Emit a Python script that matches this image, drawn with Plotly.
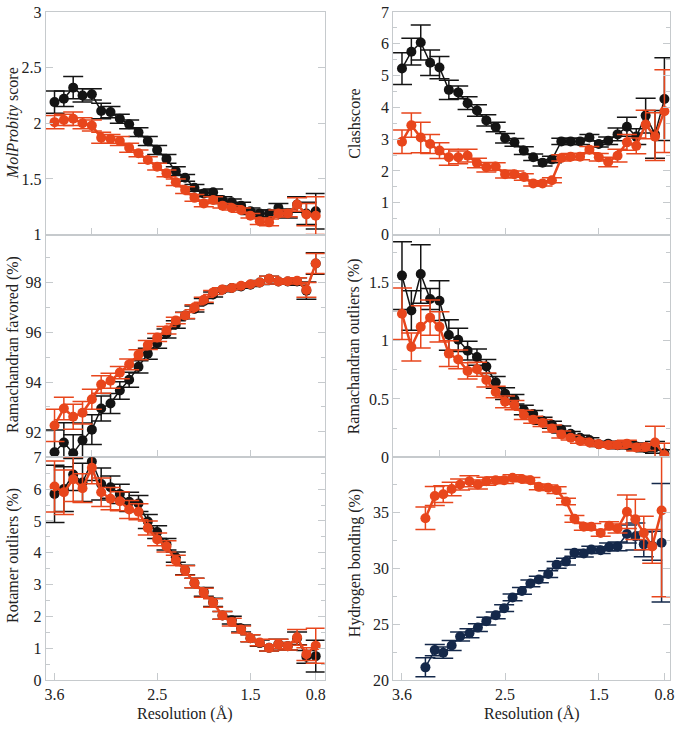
import plotly.graph_objects as go

# ---------------- data ----------------
resolution = [3.6, 3.5, 3.4, 3.3, 3.2, 3.1, 3.0, 2.9, 2.8, 2.7, 2.6, 2.5, 2.4, 2.3, 2.2,
              2.1, 2.0, 1.9, 1.8, 1.7, 1.6, 1.5, 1.4, 1.3, 1.2, 1.1, 1.0, 0.9, 0.8]

molprobity_black = [2.19, 2.22, 2.32, 2.25, 2.26, 2.11, 2.10, 2.04, 1.99, 1.92, 1.84, 1.76, 1.68, 1.57, 1.51,
                    1.42, 1.37, 1.38, 1.31, 1.29, 1.26, 1.21, 1.19, 1.19, 1.24, 1.19, 1.27, 1.19, 1.21]
molprobity_black_err = [0.10, 0.07, 0.10, 0.06, 0.05, 0.07, 0.05, 0.04, 0.04, 0.04, 0.04, 0.04, 0.04, 0.04, 0.03,
                        0.03, 0.03, 0.03, 0.03, 0.03, 0.03, 0.03, 0.03, 0.03, 0.04, 0.04, 0.07, 0.10, 0.16]
molprobity_orange = [2.01, 2.03, 2.04, 2.00, 1.98, 1.87, 1.86, 1.84, 1.78, 1.73, 1.67, 1.61, 1.55, 1.47, 1.40,
                     1.33, 1.28, 1.31, 1.26, 1.24, 1.22, 1.17, 1.12, 1.11, 1.19, 1.19, 1.27, 1.18, 1.17]
molprobity_orange_err = [0.06, 0.05, 0.06, 0.05, 0.05, 0.05, 0.04, 0.04, 0.04, 0.03, 0.03, 0.03, 0.03, 0.03, 0.03,
                         0.03, 0.03, 0.03, 0.02, 0.02, 0.02, 0.02, 0.03, 0.03, 0.03, 0.03, 0.06, 0.10, 0.17]

clash_black = [5.22, 5.75, 6.04, 5.40, 5.25, 4.55, 4.47, 4.13, 3.90, 3.59, 3.38, 3.03, 2.90, 2.64, 2.43,
               2.26, 2.36, 2.93, 2.93, 2.93, 3.05, 2.85, 2.95, 3.15, 3.39, 3.08, 3.74, 3.15, 4.26]
clash_black_err = [0.50, 0.42, 0.55, 0.40, 0.35, 0.30, 0.20, 0.20, 0.18, 0.18, 0.15, 0.15, 0.12, 0.12, 0.10,
                   0.10, 0.10, 0.10, 0.10, 0.10, 0.10, 0.10, 0.12, 0.20, 0.30, 0.25, 0.55, 0.75, 1.30]
clash_orange = [2.92, 3.44, 3.05, 2.85, 2.64, 2.43, 2.43, 2.48, 2.25, 2.12, 2.14, 1.90, 1.90, 1.81, 1.61,
                1.61, 1.71, 2.41, 2.45, 2.45, 2.67, 2.43, 2.28, 2.48, 2.90, 2.79, 3.46, 3.08, 3.88]
clash_orange_err = [0.37, 0.38, 0.48, 0.30, 0.25, 0.25, 0.20, 0.20, 0.15, 0.15, 0.12, 0.12, 0.10, 0.10, 0.08,
                    0.08, 0.08, 0.10, 0.10, 0.10, 0.10, 0.12, 0.15, 0.20, 0.25, 0.25, 0.45, 0.75, 1.30]

ramafav_black = [91.18, 91.57, 91.14, 91.66, 92.09, 92.94, 93.14, 93.66, 94.09, 94.61, 95.14, 95.56, 95.95, 96.31, 96.67,
                 96.93, 97.25, 97.52, 97.71, 97.78, 97.84, 97.91, 98.00, 98.15, 98.04, 98.04, 98.04, 97.67, 98.76]
ramafav_black_err = [0.90, 0.80, 0.75, 0.70, 0.60, 0.50, 0.40, 0.35, 0.30, 0.25, 0.22, 0.20, 0.18, 0.15, 0.13,
                     0.12, 0.10, 0.10, 0.08, 0.07, 0.07, 0.07, 0.08, 0.10, 0.10, 0.10, 0.15, 0.35, 0.43]
ramafav_orange = [92.26, 92.94, 92.61, 92.77, 93.31, 93.90, 94.05, 94.38, 94.71, 95.10, 95.49, 95.79, 96.08, 96.47, 96.67,
                  97.00, 97.30, 97.60, 97.72, 97.78, 97.87, 97.93, 98.00, 98.15, 98.04, 98.05, 98.07, 97.70, 98.76]
ramafav_orange_err = [0.65, 0.45, 0.50, 0.45, 0.40, 0.35, 0.30, 0.25, 0.22, 0.20, 0.18, 0.16, 0.15, 0.13, 0.12,
                      0.10, 0.10, 0.08, 0.07, 0.06, 0.06, 0.06, 0.07, 0.10, 0.10, 0.10, 0.12, 0.30, 0.40]

ramaout_black = [1.556, 1.257, 1.570, 1.355, 1.341, 1.047, 1.006, 0.913, 0.858, 0.777, 0.642, 0.545, 0.497, 0.405, 0.371,
                 0.313, 0.279, 0.237, 0.201, 0.168, 0.148, 0.112, 0.117, 0.103, 0.106, 0.092, 0.078, 0.085, 0.034]
ramaout_black_err = [0.29, 0.17, 0.25, 0.09, 0.17, 0.13, 0.10, 0.08, 0.07, 0.06, 0.05, 0.05, 0.04, 0.04, 0.03,
                     0.03, 0.03, 0.03, 0.02, 0.02, 0.02, 0.02, 0.02, 0.03, 0.03, 0.03, 0.03, 0.05, 0.03]
ramaout_orange = [1.229, 0.944, 1.117, 1.196, 1.117, 0.888, 0.838, 0.740, 0.754, 0.662, 0.559, 0.475, 0.447, 0.363, 0.321,
                  0.293, 0.246, 0.196, 0.168, 0.140, 0.126, 0.112, 0.106, 0.106, 0.117, 0.084, 0.089, 0.126, 0.020]
ramaout_orange_err = [0.22, 0.12, 0.18, 0.15, 0.13, 0.11, 0.08, 0.07, 0.06, 0.06, 0.05, 0.05, 0.04, 0.04, 0.03,
                      0.03, 0.03, 0.03, 0.02, 0.02, 0.02, 0.02, 0.02, 0.03, 0.03, 0.03, 0.03, 0.14, 0.10]

rotamer_black = [5.85, 6.00, 6.46, 6.21, 6.87, 6.16, 6.06, 5.85, 5.60, 5.55, 4.98, 4.65, 4.27, 3.86, 3.46,
                 3.05, 2.77, 2.44, 2.03, 1.88, 1.62, 1.31, 1.16, 1.01, 1.13, 1.06, 1.31, 0.73, 0.75]
rotamer_black_err = [0.90, 0.70, 0.50, 0.60, 0.60, 0.50, 0.35, 0.30, 0.30, 0.25, 0.22, 0.20, 0.18, 0.16, 0.15,
                     0.15, 0.14, 0.13, 0.12, 0.12, 0.11, 0.11, 0.10, 0.10, 0.15, 0.12, 0.20, 0.20, 0.50]
rotamer_orange = [6.08, 5.90, 6.31, 6.03, 6.67, 5.90, 5.70, 5.62, 5.36, 5.29, 4.78, 4.42, 4.20, 3.76, 3.44,
                  3.05, 2.74, 2.42, 2.03, 1.82, 1.59, 1.31, 1.18, 1.01, 1.13, 1.06, 1.34, 0.81, 1.08]
rotamer_orange_err = [0.80, 0.70, 0.70, 0.45, 0.50, 0.45, 0.35, 0.30, 0.28, 0.25, 0.22, 0.20, 0.18, 0.16, 0.15,
                      0.15, 0.14, 0.13, 0.12, 0.12, 0.11, 0.11, 0.10, 0.10, 0.15, 0.12, 0.25, 0.20, 0.55]

hbond_resolution = [3.35, 3.25, 3.16, 3.07, 2.98, 2.88, 2.79, 2.70, 2.60, 2.51, 2.42, 2.32, 2.23, 2.14,
                    2.04, 1.95, 1.85, 1.76, 1.66, 1.58, 1.48, 1.39, 1.30, 1.20, 1.11, 1.02, 0.93, 0.83]
hbond_navy = [21.13, 22.67, 22.44, 23.08, 23.89, 24.18, 24.68, 25.26, 25.78, 26.42, 27.38, 27.96, 28.63, 28.98,
              29.47, 30.29, 30.58, 31.36, 31.30, 31.65, 31.60, 31.89, 31.94, 33.05, 32.82, 32.12, 32.00, 32.26]
hbond_navy_err = [0.85, 0.50, 0.50, 0.45, 0.40, 0.40, 0.35, 0.35, 0.30, 0.30, 0.30, 0.30, 0.30, 0.30,
                  0.30, 0.30, 0.30, 0.30, 0.30, 0.30, 0.30, 0.35, 0.40, 0.80, 1.20, 1.10, 1.30, 5.30]
hbond_orange = [34.45, 36.45, 36.60, 37.06, 37.47, 37.76, 37.47, 37.76, 37.85, 37.85, 38.08, 37.96, 37.85, 37.26,
                37.18, 36.97, 35.95, 34.40, 33.69, 33.69, 33.14, 33.78, 33.54, 35.03, 34.36, 33.14, 31.94, 35.14]
hbond_orange_err = [1.00, 0.85, 0.75, 0.60, 0.50, 0.50, 0.40, 0.35, 0.30, 0.30, 0.25, 0.25, 0.25, 0.25,
                    0.25, 0.30, 0.30, 0.30, 0.30, 0.30, 0.30, 0.35, 0.40, 1.50, 1.80, 1.50, 1.50, 7.70]

x_tick_labels = ["3.6", "2.5", "1.5", "0.8"]

BLACK = "#141414"
ORANGE = "#e8461c"
NAVY = "#14284a"
FRAME = "#c6cacd"
FONT = "Liberation Serif"
TXT = "#222222"

fig = go.Figure()


def add_series(x, y, err, color, lw, axis_suffix):
    fig.add_trace(go.Scatter(
        x=x, y=y, mode="lines+markers",
        line=dict(color=color, width=lw),
        marker=dict(color=color, size=10),
        error_y=dict(type="data", array=err, visible=True, color=color, thickness=1.5, width=10),
        xaxis="x" + axis_suffix, yaxis="y" + axis_suffix,
        showlegend=False, hoverinfo="x+y"))


add_series(resolution, molprobity_black, molprobity_black_err, BLACK, 1.5, "")
add_series(resolution, molprobity_orange, molprobity_orange_err, ORANGE, 2.5, "")
add_series(resolution, clash_black, clash_black_err, BLACK, 1.5, "2")
add_series(resolution, clash_orange, clash_orange_err, ORANGE, 2.5, "2")
add_series(resolution, ramafav_black, ramafav_black_err, BLACK, 1.5, "3")
add_series(resolution, ramafav_orange, ramafav_orange_err, ORANGE, 2.5, "3")
add_series(resolution, ramaout_black, ramaout_black_err, BLACK, 1.5, "4")
add_series(resolution, ramaout_orange, ramaout_orange_err, ORANGE, 2.5, "4")
add_series(resolution, rotamer_black, rotamer_black_err, BLACK, 1.5, "5")
add_series(resolution, rotamer_orange, rotamer_orange_err, ORANGE, 2.5, "5")
add_series(hbond_resolution, hbond_navy, hbond_navy_err, NAVY, 1.5, "6")
add_series(hbond_resolution, hbond_orange, hbond_orange_err, ORANGE, 2.5, "6")

W, H = 677, 731
left_dom = [45 / W, 326 / W]
right_dom = [395 / W, 674 / W]
rows = [[1 - 232 / H, 1 - 4 / H], [1 - 460 / H, 1 - 232 / H], [1 - 688 / H, 1 - 460 / H]]


def xax(dom, anchor, rng, bottom):
    d = dict(domain=dom, anchor=anchor, range=rng, autorange=False,
             showline=True, linecolor=FRAME, linewidth=1, mirror=True,
             ticks="inside", ticklen=7, tickcolor=FRAME, tickwidth=1.2,
             showgrid=False, zeroline=False, ticklabeloverflow="allow",
             tickfont=dict(family=FONT, size=16, color=TXT))
    if bottom:
        d.update(tickvals=[3.6, 2.5, 1.5, 0.8], ticktext=x_tick_labels, showticklabels=True)
    else:
        d.update(tickvals=[3.2, 2.5, 1.5], showticklabels=False)
    return d


def yax(dom, anchor, rng, dtick, minor_dtick):
    d = dict(domain=dom, anchor=anchor, range=rng, autorange=False,
             showline=True, linecolor=FRAME, linewidth=1, mirror="ticks",
             ticks="inside", ticklen=7, tickcolor=FRAME, tickwidth=1.2,
             dtick=dtick, tick0=0, ticklabeloverflow="allow",
             showgrid=False, zeroline=False,
             tickfont=dict(family=FONT, size=16, color=TXT))
    if minor_dtick:
        d["minor"] = dict(ticks="inside", ticklen=4, tickcolor=FRAME, dtick=minor_dtick, tick0=0, showgrid=False)
    return d


LR = [3.695, 0.705]
RR = [3.695, 0.74]

fig.update_layout(
    width=W, height=H, margin=dict(l=0, r=0, t=0, b=0),
    paper_bgcolor="white", plot_bgcolor="white",
    font=dict(family=FONT, color=TXT, size=14),
    xaxis=xax(left_dom, "y", LR, False),
    yaxis=yax(rows[0], "x", [1, 3], 0.5, None),
    xaxis2=xax(right_dom, "y2", RR, False),
    yaxis2=yax(rows[0], "x2", [0, 7], 1, 0.5),
    xaxis3=xax(left_dom, "y3", LR, False),
    yaxis3=yax(rows[1], "x3", [90.98, 99.92], 2, 1),
    xaxis4=xax(right_dom, "y4", RR, False),
    yaxis4=yax(rows[1], "x4", [0, 1.907], 0.5, 0.25),
    xaxis5=xax(left_dom, "y5", LR, True),
    yaxis5=yax(rows[2], "x5", [0, 7], 1, 0.5),
    xaxis6=xax(right_dom, "y6", RR, True),
    yaxis6=yax(rows[2], "x6", [20, 39.9], 5, 2.5),
)

ann = [
    ("<i>MolProbity</i> score", 12, 118),
    ("Clashscore", 356, 118),
    ("Ramachandran favored (%)", 12, 344),
    ("Ramachandran outliers (%)", 356, 346),
    ("Rotamer outliers (%)", 12, 560),
    ("Hydrogen bonding (%)", 356, 568),
]
for text, px, py in ann:
    fig.add_annotation(text=text, x=px / W, y=1 - py / H, xref="paper", yref="paper",
                       showarrow=False, textangle=-90, xanchor="center", yanchor="middle",
                       font=dict(family=FONT, size=16, color=TXT))

for px in (185, 535):
    fig.add_annotation(text="Resolution (Å)", x=px / W, y=1 - 723 / H, xref="paper", yref="paper",
                       showarrow=False, xanchor="center", yanchor="middle",
                       font=dict(family=FONT, size=16, color=TXT))

fig.write_html("out.html", config={"displayModeBar": False},
               post_script="document.body.style.margin='0';")
